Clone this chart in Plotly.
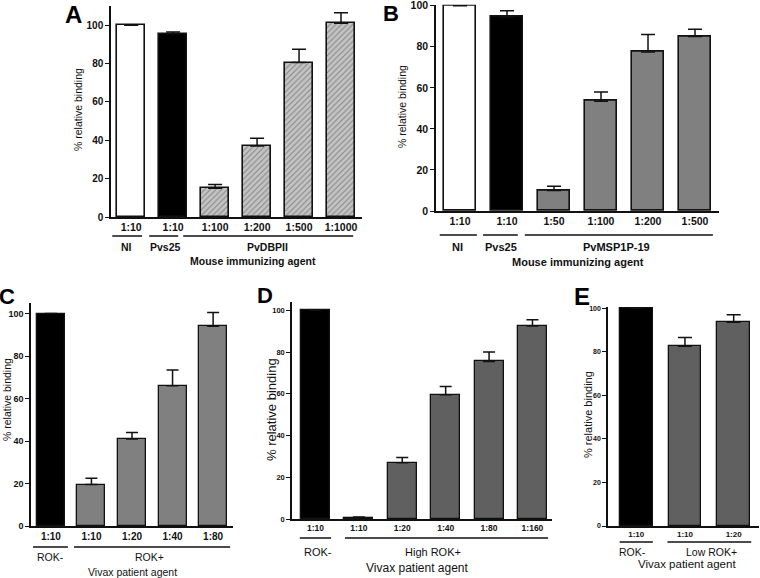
import plotly.graph_objects as go

W, H = 760, 578

# ---------------- data ----------------
a_ticks = ["1:10", "1:10", "1:100", "1:200", "1:500", "1:1000"]
a_values = [100, 95.5, 15, 37, 80.5, 101]
a_errors = [0, 1, 2, 4, 7, 5.5]
a_groups = ["NI", "Pvs25", "PvDBPII"]
a_xtitle = "Mouse immunizing agent"

b_ticks = ["1:10", "1:10", "1:50", "1:100", "1:200", "1:500"]
b_values = [100, 94.5, 10, 53.5, 77.5, 85]
b_errors = [0, 3, 2, 4.5, 8.5, 3.5]
b_groups = ["NI", "Pvs25", "PvMSP1P-19"]
b_xtitle = "Mouse immunizing agent"

c_ticks = ["1:10", "1:10", "1:20", "1:40", "1:80"]
c_values = [100, 19.5, 41, 66, 94]
c_errors = [0, 3, 3, 7.5, 6.5]
c_groups = ["ROK-", "ROK+"]
c_xtitle = "Vivax patient agent"

d_ticks = ["1:10", "1:10", "1:20", "1:40", "1:80", "1:160"]
d_values = [100, 0.5, 27, 59.5, 75.5, 92.5]
d_errors = [0, 0.5, 2.5, 4, 4.5, 3]
d_groups = ["ROK-", "High ROK+"]
d_xtitle = "Vivax patient agent"

e_ticks = ["1:10", "1:10", "1:20"]
e_values = [100, 82.5, 93.5]
e_errors = [0, 4, 3.5]
e_groups = ["ROK-", "Low ROK+"]
e_xtitle = "Vivax patient agent"

ytitle = "% relative binding"

# ---------------- styling / layout (pixels) ----------------
FONT = "Liberation Sans, Arial, sans-serif"

panels = [
    dict(letter="A", ticks=a_ticks, vals=a_values, errs=a_errors, groups=a_groups, xtitle=a_xtitle,
         colors=["white", "black"] + ["#c4c4c4"] * 4, hatch=[False, False] + [True] * 4,
         xpx=(111, 362), ypx=(6, 217), yr=(0, 110), xr=(-0.48, 5.5), bw=0.67,
         glines=[(-0.45, 0.26), (0.43, 1.12), (1.24, 5.29)], glx=[-0.1, 0.81, 3.24],
         gly=236, glab=247, tity=261, titx=2.9, yt=(78, 110), lt=(73, 14), lsize=24,
         tfs=10.5, tbold=True, ytfs=10, ytbold=True, ytitfs=10.5, gfs=10.5, gbold=True, titfs=10.5, titbold=True,
         cap=7, lw=1.6),
    dict(letter="B", ticks=b_ticks, vals=b_values, errs=b_errors, groups=b_groups, xtitle=b_xtitle,
         colors=["white", "black"] + ["#808080"] * 4, hatch=[False] * 6,
         xpx=(436, 719), ypx=(4.7, 211), yr=(0, 100.5), xr=(-0.51, 5.51), bw=0.68,
         glines=[(-0.43, 0.36), (0.49, 1.23), (1.38, 5.38)], glx=[-0.06, 0.87, 3.34],
         gly=235, glab=247, tity=262, titx=2.51, yt=(402, 107), lt=(391, 13), lsize=22,
         tfs=10.5, tbold=True, ytfs=10.5, ytbold=True, ytitfs=10.5, gfs=11, gbold=True, titfs=11, titbold=True,
         cap=7, lw=1.6),
    dict(letter="C", ticks=c_ticks, vals=c_values, errs=c_errors, groups=c_groups, xtitle=c_xtitle,
         colors=["black"] + ["#808080"] * 4, hatch=[False] * 5,
         xpx=(31, 233), ypx=(303, 526), yr=(0, 105), xr=(-0.49, 4.49), bw=0.69,
         glines=[(-0.44, 0.42), (0.57, 4.42)], glx=[-0.02, 2.44],
         gly=547, glab=557, tity=572, titx=2.0, yt=(7, 400), lsize=22, lt=(7, 296),
         tfs=10, tbold=True, ytfs=9, ytbold=True, ytitfs=10.5, gfs=10.5, gbold=False, titfs=10.5, titbold=False,
         cap=6, lw=1.3),
    dict(letter="D", ticks=d_ticks, vals=d_values, errs=d_errors, groups=d_groups, xtitle=d_xtitle,
         colors=["black"] + ["#606060"] * 5, hatch=[False] * 6,
         xpx=(292, 552), ypx=(302, 519), yr=(0, 104), xr=(-0.54, 5.45), bw=0.67,
         glines=[(-0.36, 0.36), (0.68, 5.36)], glx=[0.06, 2.7],
         gly=538, glab=552, tity=568, titx=2.36, yt=(271, 410), lsize=22, lt=(265, 295),
         tfs=8.5, tbold=True, ytfs=7.5, ytbold=True, ytitfs=13, gfs=11, gbold=False, titfs=12, titbold=False,
         cap=6, lw=1.3),
    dict(letter="E", ticks=e_ticks, vals=e_values, errs=e_errors, groups=e_groups, xtitle=e_xtitle,
         colors=["black"] + ["#606060"] * 2, hatch=[False] * 3,
         xpx=(608, 759), ypx=(307, 526), yr=(0, 100.5), xr=(-0.58, 2.52), bw=0.67,
         glines=[(-0.34, 0.34), (0.64, 2.36)], glx=[-0.07, 1.54],
         gly=542, glab=552, tity=564, titx=1.05, yt=(588, 415), lsize=24, lt=(582, 296),
         tfs=8, tbold=True, ytfs=7, ytbold=True, ytitfs=11, gfs=10.5, gbold=False, titfs=11.5, titbold=False,
         cap=7, lw=1.3),
]


def fx(p):
    return p / W


def fy(p):
    return 1 - p / H


fig = go.Figure()
shapes = []
annotations = []
layout_axes = {}

for i, p in enumerate(panels):
    n = i + 1
    xa = "x" if n == 1 else f"x{n}"
    ya = "y" if n == 1 else f"y{n}"
    xkey = "xaxis" if n == 1 else f"xaxis{n}"
    ykey = "yaxis" if n == 1 else f"yaxis{n}"
    xs = list(range(len(p["vals"])))
    fig.add_trace(go.Bar(
        x=xs, y=p["vals"], width=p["bw"], xaxis=xa, yaxis=ya, showlegend=False,
        marker=dict(color=p["colors"], line=dict(color="#111111", width=p["lw"]),
                    pattern=dict(shape=["/" if h else "" for h in p["hatch"]],
                                 fgcolor="#b2b2b2", size=4, solidity=0.25,
                                 fillmode="overlay")),
        error_y=dict(type="data", symmetric=False,
                     array=[e if e > 0 else None for e in p["errs"]],
                     arrayminus=[0 if e > 0 else None for e in p["errs"]],
                     color="#111111", thickness=1.5, width=p["cap"]),
    ))
    layout_axes[xkey] = dict(
        domain=[fx(p["xpx"][0]), fx(p["xpx"][1])], anchor=ya, range=list(p["xr"]),
        tickmode="array", tickvals=xs, ticktext=p["ticks"], ticks="", showline=True,
        linecolor="#111111", linewidth=1.5, showgrid=False, zeroline=False, automargin=False,
        ticklabeloverflow="allow",
        tickfont=dict(family=FONT, size=p["tfs"], color="#111111", weight="bold" if p["tbold"] else "normal"),
        fixedrange=True,
    )
    layout_axes[ykey] = dict(
        domain=[fy(p["ypx"][1]), fy(p["ypx"][0])], anchor=xa, range=list(p["yr"]),
        tickmode="array", tickvals=[0, 20, 40, 60, 80, 100], ticks="outside", ticklen=4,
        tickwidth=1.2, tickcolor="#111111", showline=True, linecolor="#111111", linewidth=1.5,
        showgrid=False, zeroline=False, automargin=False, ticklabeloverflow="allow",
        tickfont=dict(family=FONT, size=p["ytfs"], color="#111111", weight="bold" if p["ytbold"] else "normal"),
        fixedrange=True,
    )
    # group lines and labels
    for (x0, x1), gx, g in zip(p["glines"], p["glx"], p["groups"]):
        shapes.append(dict(type="line", xref=xa, yref="paper", x0=x0, x1=x1,
                           y0=fy(p["gly"]), y1=fy(p["gly"]), line=dict(color="#111111", width=1.5)))
        annotations.append(dict(xref=xa, yref="paper", x=gx, y=fy(p["glab"]), text=g, showarrow=False,
                                font=dict(family=FONT, size=p["gfs"], color="#111111",
                                          weight="bold" if p["gbold"] else "normal"),
                                xanchor="center", yanchor="middle"))
    annotations.append(dict(xref=xa, yref="paper", x=p["titx"], y=fy(p["tity"]), text=p["xtitle"],
                            showarrow=False, xanchor="center", yanchor="middle",
                            font=dict(family=FONT, size=p["titfs"], color="#111111",
                                      weight="bold" if p["titbold"] else "normal")))
    annotations.append(dict(xref="paper", yref="paper", x=fx(p["yt"][0]), y=fy(p["yt"][1]), text=ytitle,
                            textangle=-90, showarrow=False, xanchor="center", yanchor="middle",
                            font=dict(family=FONT, size=p["ytitfs"], color="#111111")))
    annotations.append(dict(xref="paper", yref="paper", x=fx(p["lt"][0]), y=fy(p["lt"][1]), text=p["letter"],
                            showarrow=False, xanchor="center", yanchor="middle",
                            font=dict(family=FONT, size=p["lsize"], color="#000000", weight="bold")))

fig.update_layout(
    width=W, height=H, autosize=False,
    margin=dict(l=0, r=0, t=0, b=0),
    paper_bgcolor="white", plot_bgcolor="white",
    shapes=shapes, annotations=annotations, bargap=0,
    **layout_axes,
)

fig.write_html("out.html", config={"displayModeBar": False},
               post_script="document.body.style.margin='0';document.body.style.overflow='hidden';")
